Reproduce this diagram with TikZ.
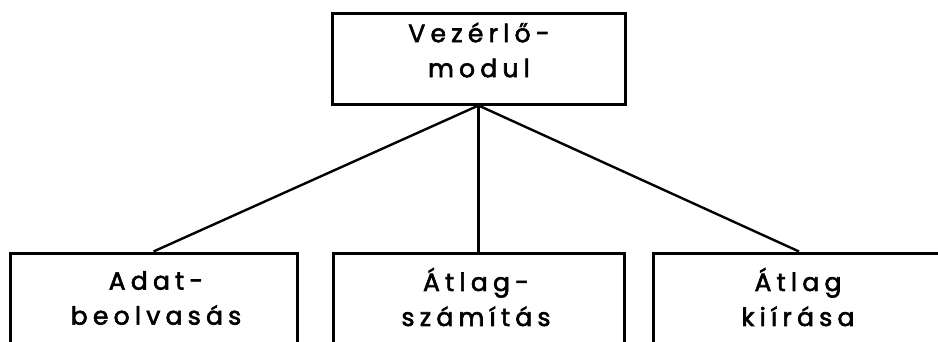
\documentclass[tikz,border=0pt]{standalone}
\usepackage{fontspec}
\setmainfont{Poppins}[LetterSpace=21, FakeBold=2.4]
\begin{document}
\begin{tikzpicture}[x=1pt,y=1pt,
  box/.style={draw, line width=3pt, rectangle, inner sep=0pt},
  lbl/.style={align=center, inner sep=0pt, font=\fontsize{25}{35}\selectfont},
  conn/.style={line width=2.4pt}]
\useasboundingbox (0,0) rectangle (938,341);
\clip (0,0) rectangle (938,341);
\fill[white] (0,0) rectangle (938,341);
\node[box, minimum width=293pt, minimum height=90pt] (top) at (478.5,282) {};
\node[lbl] (toptext) at (479,291) {Vezérlő-\\modul};
\node[box, minimum width=287pt, minimum height=100pt] (a) at (153.5,38) {};
\node[box, minimum width=291pt, minimum height=100pt] (b) at (478.5,38) {};
\node[box, minimum width=292pt, minimum height=100pt] (c) at (799,38) {};
\node[lbl] (atext) at (156,43) {Adat-\\beolvasás};
\node[lbl] (btext) at (476,44) {Átlag-\\számítás};
\node[lbl] (ctext) at (798,44) {Átlag\\kiírása};
\draw[conn] (top.south) -- (a.north);
\draw[conn] (top.south) -- (b.north);
\draw[conn] (top.south) -- (c.north);
\end{tikzpicture}
\end{document}
